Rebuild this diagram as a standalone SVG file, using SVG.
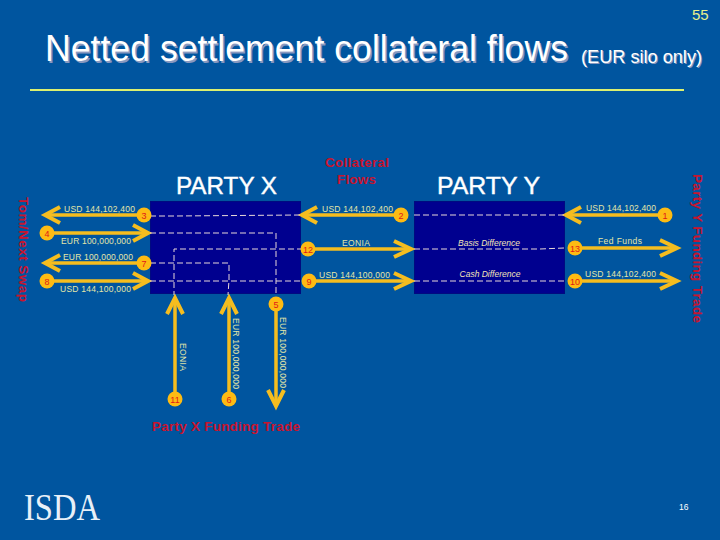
<svg xmlns="http://www.w3.org/2000/svg" width="720" height="540" viewBox="0 0 720 540">
<defs>
<style>
text{font-family:"Liberation Sans",Arial,sans-serif}
.box{fill:#00008f;stroke:#000a80;stroke-width:1}
.flow{fill:none;stroke:#f5bd1f;stroke-width:3.5}
.head{fill:none;stroke:#f5bd1f;stroke-width:4}
.dash{fill:none;stroke:#e8d8d8;stroke-width:1;stroke-dasharray:6 3}
.bdg{fill:#fdbb13}
.n{fill:#e01818;font-size:9px;text-anchor:middle}
.amt{fill:#e4e6a8;font-size:8.500px}
.it{fill:#f3e4b8;font-size:8.500px;font-style:italic;text-anchor:middle}
.party{fill:#fff;stroke:#fff;stroke-width:.4;font-size:24px}
.red{fill:#c8142e;font-size:13.500px;font-weight:bold}
.t{fill:#fff}
.ts{fill:#8899c0}
.isda{font-family:"Liberation Serif",serif;font-size:38px;fill:#e8f0f8}
</style>
</defs>
<rect width="720" height="540" fill="#00559f"/>
<text x="692" y="20" font-size="15" fill="#e8f08c">55</text>
<text x="46.500" y="62.500" font-size="36" class="ts" textLength="523" lengthAdjust="spacingAndGlyphs">Netted settlement collateral flows</text>
<text x="45" y="61" font-size="36" class="t" textLength="523" lengthAdjust="spacingAndGlyphs">Netted settlement collateral flows</text>
<text x="582" y="64" font-size="18" class="ts" textLength="121" lengthAdjust="spacingAndGlyphs">(EUR silo only)</text>
<text x="581" y="63" font-size="18" class="t" textLength="121" lengthAdjust="spacingAndGlyphs">(EUR silo only)</text>
<rect x="30" y="89" width="654" height="2" fill="#dcf070"/>
<g id="party-x"><rect class="box" x="150.500" y="201.500" width="150" height="92"/><text class="party" x="176" y="194" textLength="101" lengthAdjust="spacingAndGlyphs">PARTY X</text></g>
<g id="party-y"><rect class="box" x="414.500" y="201.500" width="150" height="92"/><text class="party" x="437" y="194" textLength="103" lengthAdjust="spacingAndGlyphs">PARTY Y</text></g>
<g id="connectors">
<path class="flow" d="M144 215H46M47 233H146M144 263H46M47 281H146M401 215H303M308 249H409M309 281H409M665 215H567M575 248H675M575 281H675M175 399V300M229 399V300M276 304V404"/>
<path class="head" d="M60 207L45 215L60 223M133 225L148 233L133 241M60 255L45 263L60 271M133 273L148 281L133 289M317 207L302 215L317 223M394 241L411 249L394 257M394 273L411 281L394 289M581 207L566 215L581 223M660 240L677 248L660 256M660 273L677 281L660 289M167 314L175 298L183 314M221 314L229 298L237 314M268 390L276 406L284 390"/>
<path class="dash" d="M150 216H176L300 215M150 233H276V295M303 249H174V295M150 263H229V280L228 295M150 281H300M414 215H564M414 249H540L564 248M414 281H564"/>
</g>
<g id="flow-labels" class="amt">
<text x="64" y="212" textLength="71">USD 144,102,400</text>
<text x="61" y="244" textLength="70">EUR 100,000,000</text>
<text x="63" y="260" textLength="70">EUR 100,000,000</text>
<text x="60" y="292" textLength="71">USD 144,100,000</text>
<text x="322" y="212" textLength="71">USD 144,102,400</text>
<text x="342" y="246" textLength="28">EONIA</text>
<text x="319" y="278" textLength="71">USD 144,100,000</text>
<text x="586" y="211" textLength="70">USD 144,102,400</text>
<text x="598" y="244" textLength="44">Fed Funds</text>
<text x="585" y="277" textLength="71">USD 144,102,400</text>
<text transform="translate(180,343) rotate(90)" textLength="28">EONIA</text>
<text transform="translate(233,318) rotate(90)" textLength="71">EUR 100,000,000</text>
<text transform="translate(280,317) rotate(90)" textLength="71">EUR 100,000,000</text>
</g>
<text class="it" x="489" y="246">Basis Difference</text>
<text class="it" x="490" y="277">Cash Difference</text>
<g id="n1"><circle class="bdg" cx="665" cy="215" r="7.500"/><text class="n" x="665" y="218.500">1</text></g>
<g id="n2"><circle class="bdg" cx="401" cy="215" r="7.500"/><text class="n" x="401" y="218.500">2</text></g>
<g id="n3"><circle class="bdg" cx="144" cy="215" r="7.500"/><text class="n" x="144" y="218.500">3</text></g>
<g id="n4"><circle class="bdg" cx="47" cy="233" r="7.500"/><text class="n" x="47" y="236.500">4</text></g>
<g id="n5"><circle class="bdg" cx="276" cy="304" r="7.500"/><text class="n" x="276" y="307.500">5</text></g>
<g id="n6"><circle class="bdg" cx="229" cy="399" r="7.500"/><text class="n" x="229" y="402.500">6</text></g>
<g id="n7"><circle class="bdg" cx="144" cy="263" r="7.500"/><text class="n" x="144" y="266.500">7</text></g>
<g id="n8"><circle class="bdg" cx="47" cy="281" r="7.500"/><text class="n" x="47" y="284.500">8</text></g>
<g id="n9"><circle class="bdg" cx="309" cy="281" r="7.500"/><text class="n" x="309" y="284.500">9</text></g>
<g id="n10"><circle class="bdg" cx="575" cy="281" r="7.500"/><text class="n" x="575" y="284.500">10</text></g>
<g id="n11"><circle class="bdg" cx="175" cy="399" r="7.500"/><text class="n" x="175" y="402.500">11</text></g>
<g id="n12"><circle class="bdg" cx="308" cy="249" r="7.500"/><text class="n" x="308" y="252.500">12</text></g>
<g id="n13"><circle class="bdg" cx="575" cy="248" r="7.500"/><text class="n" x="575" y="251.500">13</text></g>
<text class="red" x="325" y="167" textLength="64">Collateral</text>
<text class="red" x="337" y="184" textLength="39">Flows</text>
<text class="red" transform="translate(19,197) rotate(90)" textLength="105">Tom/Next Swap</text>
<text class="red" transform="translate(693,174) rotate(90)" textLength="149">Party Y Funding Trade</text>
<text class="red" x="152" y="431" textLength="148">Party X Funding Trade</text>
<text class="isda" x="24" y="520" textLength="76" lengthAdjust="spacingAndGlyphs">ISDA</text>
<text x="679" y="510" font-size="8.500" fill="#fff">16</text>
</svg>
